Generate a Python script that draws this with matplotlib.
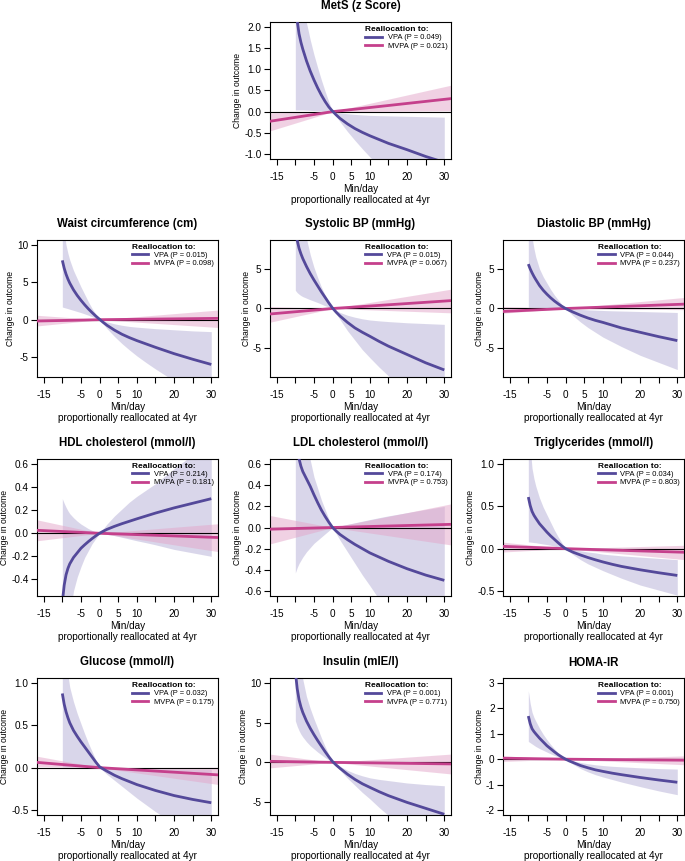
import matplotlib
matplotlib.use("Agg")
import matplotlib.pyplot as plt
from matplotlib.lines import Line2D
from matplotlib.ticker import FormatStrFormatter

plt.rcParams['font.family'] = ['Liberation Sans', 'DejaVu Sans']
plt.rcParams['axes.unicode_minus'] = False

# minutes/day reallocated (x values of the plotted curves)
X_VPA = [-10, -9.5, -9, -8.5, -8, -7, -6, -5, -4, -3, -2, -1, 0, 1, 2, 4, 6, 8, 10, 12.5, 15, 20, 25, 30]
X_MVPA = [-17, 0, 32]
X_TICKS = [-15, -10, -5, 0, 5, 10, 15, 20, 25, 30]
X_LABELED = [-15, -5, 0, 5, 10, 20, 30]

TITLES = ["MetS (z Score)", "Waist circumference (cm)", "Systolic BP (mmHg)",
          "Diastolic BP (mmHg)", "HDL cholesterol (mmol/l)", "LDL cholesterol (mmol/l)",
          "Triglycerides (mmol/l)", "Glucose (mmol/l)", "Insulin (mIE/l)", "HOMA-IR"]
P_VPA = ["0.049", "0.015", "0.015", "0.044", "0.214", "0.174", "0.034", "0.032", "0.001", "0.001"]
P_MVPA = ["0.021", "0.098", "0.067", "0.237", "0.181", "0.753", "0.803", "0.175", "0.771", "0.750"]

YRANGES = [(-1, 2), (-7, 10), (-8, 8), (-8, 8), (-0.5, 0.6), (-0.6, 0.6),
           (-0.5, 1.0), (-0.5, 1.0), (-6, 10), (-2, 3)]
YTICKS = [[-1.0, -0.5, 0.0, 0.5, 1.0, 1.5, 2.0], [-5, 0, 5, 10], [-5, 0, 5], [-5, 0, 5],
          [-0.4, -0.2, 0.0, 0.2, 0.4, 0.6], [-0.6, -0.4, -0.2, 0.0, 0.2, 0.4, 0.6],
          [-0.5, 0.0, 0.5, 1.0], [-0.5, 0.0, 0.5, 1.0], [-5, 0, 5, 10], [-2, -1, 0, 1, 2, 3]]

# MetS
mets_vpa = [2.8, 2.15, 1.84, 1.64, 1.48, 1.2, 0.96, 0.75, 0.56, 0.39, 0.24, 0.11, 0.01, -0.08, -0.16, -0.29, -0.4, -0.49, -0.57, -0.66, -0.75, -0.9, -1.06, -1.2]
mets_vpa_lo = [0.04, 0.04, 0.04, 0.04, 0.04, 0.035, 0.03, 0.025, 0.02, 0.015, 0.01, 0.01, 0.01, -0.12, -0.24, -0.47, -0.68, -0.88, -1.07, -1.28, -1.47, -1.82, -2.12, -2.4]
mets_vpa_hi = [4.5, 3.6, 3.1, 2.8, 2.55, 2.1, 1.7, 1.35, 1.04, 0.75, 0.48, 0.23, 0.01, -0.015, -0.03, -0.05, -0.065, -0.078, -0.088, -0.095, -0.1, -0.11, -0.12, -0.13]
mets_mvpa = [-0.23, 0.0, 0.31]
mets_mvpa_lo = [-0.46, 0.0, 0.02]
mets_mvpa_hi = [-0.03, 0.0, 0.63]

# Waist circumference
waist_vpa = [7.95, 6.9, 6.1, 5.45, 4.9, 4.0, 3.25, 2.6, 2.0, 1.45, 0.95, 0.48, 0.05, -0.37, -0.75, -1.4, -1.95, -2.4, -2.8, -3.25, -3.7, -4.55, -5.3, -6.0]
waist_vpa_lo = [1.7, 1.62, 1.55, 1.48, 1.4, 1.25, 1.1, 0.95, 0.78, 0.6, 0.4, 0.2, 0.05, -0.6, -1.2, -2.25, -3.2, -4.05, -4.85, -5.75, -6.6, -8.2, -9.6, -11.0]
waist_vpa_hi = [14, 11.7, 10, 8.9, 8.0, 6.6, 5.5, 4.4, 3.4, 2.4, 1.5, 0.75, 0.05, -0.15, -0.3, -0.55, -0.75, -0.9, -1.0, -1.1, -1.2, -1.35, -1.5, -1.6]
waist_mvpa = [-0.18, 0.0, 0.18]
waist_mvpa_lo = [-0.85, 0.0, -1.05]
waist_mvpa_hi = [0.6, 0.0, 1.3]

# Systolic BP
sys_vpa = [10, 8.6, 7.6, 6.9, 6.3, 5.3, 4.4, 3.6, 2.85, 2.1, 1.4, 0.7, 0.05, -0.48, -0.95, -1.75, -2.45, -3.0, -3.5, -4.15, -4.75, -5.8, -6.85, -7.75]
sys_vpa_lo = [2.3, 2.0, 1.8, 1.63, 1.5, 1.3, 1.1, 0.93, 0.75, 0.55, 0.35, 0.18, 0.05, -0.7, -1.4, -2.8, -4.0, -5.2, -6.2, -7.4, -8.5, -10.5, -12.3, -14.0]
sys_vpa_hi = [30, 22, 18, 14.5, 12, 8.8, 6.8, 5.2, 3.9, 2.7, 1.7, 0.8, 0.05, -0.25, -0.5, -0.85, -1.1, -1.3, -1.45, -1.56, -1.65, -1.8, -1.9, -2.0]
sys_mvpa = [-0.7, 0.0, 1.0]
sys_mvpa_lo = [-1.75, 0.0, -0.55]
sys_mvpa_hi = [0.25, 0.0, 2.45]

# Diastolic BP
dia_vpa = [5.6, 5.0, 4.5, 4.05, 3.65, 2.9, 2.3, 1.8, 1.35, 0.95, 0.6, 0.28, 0.0, -0.23, -0.45, -0.85, -1.2, -1.5, -1.75, -2.1, -2.45, -3.0, -3.55, -4.05]
dia_vpa_lo = [0.15, 0.145, 0.14, 0.135, 0.13, 0.12, 0.11, 0.1, 0.08, 0.06, 0.04, 0.02, 0.0, -0.45, -0.9, -1.7, -2.4, -3.0, -3.6, -4.2, -4.8, -5.9, -6.8, -7.7]
dia_vpa_hi = [15, 11, 9.0, 7.6, 6.5, 5.0, 4.0, 3.2, 2.4, 1.7, 1.1, 0.5, 0.0, -0.04, -0.07, -0.12, -0.17, -0.21, -0.25, -0.29, -0.32, -0.38, -0.44, -0.5]
dia_mvpa = [-0.38, 0.0, 0.55]
dia_mvpa_lo = [-0.6, 0.0, -0.15]
dia_mvpa_hi = [0.25, 0.0, 1.4]

# HDL cholesterol
hdl_vpa = [-0.6, -0.45, -0.36, -0.305, -0.265, -0.21, -0.17, -0.13, -0.1, -0.072, -0.046, -0.022, 0.0, 0.018, 0.034, 0.06, 0.083, 0.104, 0.125, 0.15, 0.175, 0.22, 0.26, 0.3]
hdl_vpa_lo = [-2.0, -1.5, -1.2, -0.92, -0.72, -0.5, -0.38, -0.29, -0.21, -0.15, -0.09, -0.045, 0.0, -0.005, -0.01, -0.02, -0.035, -0.05, -0.065, -0.082, -0.1, -0.14, -0.17, -0.2]
hdl_vpa_hi = [0.3, 0.26, 0.225, 0.195, 0.17, 0.135, 0.105, 0.08, 0.06, 0.04, 0.025, 0.012, 0.0, 0.04, 0.08, 0.15, 0.21, 0.27, 0.32, 0.375, 0.43, 0.56, 0.68, 0.8]
hdl_mvpa = [0.026, 0.0, -0.037]
hdl_mvpa_lo = [-0.066, 0.0, -0.16]
hdl_mvpa_hi = [0.118, 0.0, 0.083]

# LDL cholesterol
ldl_vpa = [1.1, 0.8, 0.65, 0.58, 0.53, 0.46, 0.39, 0.31, 0.235, 0.165, 0.105, 0.05, 0.0, -0.035, -0.066, -0.115, -0.16, -0.2, -0.24, -0.28, -0.32, -0.39, -0.45, -0.5]
ldl_vpa_lo = [-0.43, -0.38, -0.34, -0.31, -0.28, -0.23, -0.19, -0.15, -0.12, -0.09, -0.06, -0.03, 0.0, -0.06, -0.12, -0.23, -0.34, -0.45, -0.55, -0.68, -0.8, -1.05, -1.3, -1.5]
ldl_vpa_hi = [5.0, 3.0, 2.0, 1.5, 1.2, 0.85, 0.64, 0.48, 0.37, 0.26, 0.17, 0.08, 0.0, 0.008, 0.015, 0.03, 0.045, 0.06, 0.075, 0.093, 0.11, 0.14, 0.17, 0.2]
ldl_mvpa = [-0.016, 0.0, 0.03]
ldl_mvpa_lo = [-0.157, 0.0, -0.166]
ldl_mvpa_hi = [0.115, 0.0, 0.225]

# Triglycerides
tg_vpa = [0.61, 0.51, 0.44, 0.395, 0.36, 0.295, 0.245, 0.195, 0.15, 0.11, 0.07, 0.032, 0.0, -0.022, -0.042, -0.075, -0.105, -0.132, -0.157, -0.185, -0.21, -0.25, -0.285, -0.317]
tg_vpa_lo = [0.08, 0.078, 0.075, 0.072, 0.07, 0.062, 0.055, 0.048, 0.04, 0.03, 0.02, 0.01, 0.0, -0.035, -0.07, -0.13, -0.18, -0.22, -0.26, -0.305, -0.35, -0.43, -0.49, -0.55]
tg_vpa_hi = [2.0, 1.2, 0.95, 0.83, 0.74, 0.6, 0.49, 0.4, 0.31, 0.22, 0.14, 0.07, 0.0, -0.005, -0.01, -0.025, -0.04, -0.05, -0.065, -0.075, -0.085, -0.1, -0.115, -0.13]
tg_mvpa = [0.027, 0.0, -0.043]
tg_mvpa_lo = [-0.04, 0.0, -0.13]
tg_mvpa_hi = [0.078, 0.0, 0.04]

# Glucose
glu_vpa = [0.877, 0.75, 0.66, 0.59, 0.53, 0.44, 0.37, 0.305, 0.245, 0.185, 0.125, 0.065, 0.01, -0.017, -0.042, -0.09, -0.13, -0.165, -0.2, -0.235, -0.27, -0.33, -0.376, -0.415]
glu_vpa_lo = [0.01, 0.01, 0.01, 0.01, 0.01, 0.01, 0.01, 0.01, 0.01, 0.01, 0.01, 0.01, 0.01, -0.04, -0.08, -0.15, -0.22, -0.29, -0.36, -0.44, -0.52, -0.66, -0.8, -0.95]
glu_vpa_hi = [2.5, 1.7, 1.3, 1.1, 0.95, 0.78, 0.64, 0.52, 0.4, 0.29, 0.19, 0.09, 0.01, -0.003, -0.005, -0.008, -0.01, -0.012, -0.014, -0.015, -0.016, -0.018, -0.02, -0.02]
glu_mvpa = [0.063, 0.0, -0.086]
glu_mvpa_lo = [0.012, 0.0, -0.2]
glu_mvpa_hi = [0.137, 0.0, 0.004]

# Insulin
ins_vpa = [11.5, 9.3, 7.9, 7.0, 6.3, 5.2, 4.3, 3.5, 2.75, 2.05, 1.35, 0.7, 0.1, -0.35, -0.75, -1.5, -2.15, -2.7, -3.15, -3.7, -4.2, -5.05, -5.8, -6.55]
ins_vpa_lo = [5.25, 4.55, 4.0, 3.55, 3.2, 2.6, 2.1, 1.7, 1.3, 0.95, 0.6, 0.3, 0.1, -0.5, -1.0, -2.0, -2.9, -3.8, -4.6, -5.7, -6.7, -8.5, -10.0, -11.5]
ins_vpa_hi = [25, 18, 14, 12, 10.5, 8.3, 6.8, 5.5, 4.3, 3.1, 2.0, 1.0, 0.1, -0.2, -0.5, -1.0, -1.4, -1.7, -1.95, -2.15, -2.3, -2.6, -2.8, -2.95]
ins_mvpa = [0.13, 0.0, -0.2]
ins_mvpa_lo = [-0.7, 0.0, -1.47]
ins_mvpa_hi = [1.05, 0.0, 1.05]

# HOMA-IR
homa_vpa = [1.7, 1.4, 1.2, 1.09, 1.0, 0.83, 0.68, 0.53, 0.41, 0.29, 0.18, 0.085, 0.0, -0.07, -0.13, -0.25, -0.34, -0.42, -0.48, -0.55, -0.61, -0.72, -0.82, -0.91]
homa_vpa_lo = [0.7, 0.65, 0.6, 0.55, 0.5, 0.42, 0.35, 0.28, 0.21, 0.15, 0.09, 0.04, 0.0, -0.1, -0.2, -0.37, -0.5, -0.61, -0.7, -0.8, -0.9, -1.08, -1.25, -1.4]
homa_vpa_hi = [2.7, 2.2, 1.85, 1.65, 1.5, 1.22, 0.98, 0.77, 0.58, 0.41, 0.25, 0.12, 0.0, -0.035, -0.07, -0.13, -0.18, -0.22, -0.25, -0.28, -0.3, -0.34, -0.37, -0.39]
homa_mvpa = [0.04, 0.0, -0.04]
homa_mvpa_lo = [-0.09, 0.0, -0.22]
homa_mvpa_hi = [0.13, 0.0, 0.13]

VPA_SETS = [(mets_vpa, mets_vpa_lo, mets_vpa_hi), (waist_vpa, waist_vpa_lo, waist_vpa_hi),
            (sys_vpa, sys_vpa_lo, sys_vpa_hi), (dia_vpa, dia_vpa_lo, dia_vpa_hi),
            (hdl_vpa, hdl_vpa_lo, hdl_vpa_hi), (ldl_vpa, ldl_vpa_lo, ldl_vpa_hi),
            (tg_vpa, tg_vpa_lo, tg_vpa_hi), (glu_vpa, glu_vpa_lo, glu_vpa_hi),
            (ins_vpa, ins_vpa_lo, ins_vpa_hi), (homa_vpa, homa_vpa_lo, homa_vpa_hi)]
MVPA_SETS = [(mets_mvpa, mets_mvpa_lo, mets_mvpa_hi), (waist_mvpa, waist_mvpa_lo, waist_mvpa_hi),
             (sys_mvpa, sys_mvpa_lo, sys_mvpa_hi), (dia_mvpa, dia_mvpa_lo, dia_mvpa_hi),
             (hdl_mvpa, hdl_mvpa_lo, hdl_mvpa_hi), (ldl_mvpa, ldl_mvpa_lo, ldl_mvpa_hi),
             (tg_mvpa, tg_mvpa_lo, tg_mvpa_hi), (glu_mvpa, glu_mvpa_lo, glu_mvpa_hi),
             (ins_mvpa, ins_mvpa_lo, ins_mvpa_hi), (homa_mvpa, homa_mvpa_lo, homa_mvpa_hi)]

VPA_COL = '#54499a'
MVPA_COL = '#c5408c'
VPA_FILL = '#b5afd6'
MVPA_FILL = '#e3a5c9'

W, H = 685, 861
fig = plt.figure(figsize=(W / 100, H / 100), dpi=100)

# pixel layout (left, top) of each panel box
col_left = [37, 270, 503]
row_top = [22, 240, 459, 678]
aw, ah = 181, 137
slots = [(0, 1)] + [(r, c) for r in (1, 2, 3) for c in (0, 1, 2)]


def pad(lo, hi, f=0.04):
    d = (hi - lo) * f
    return lo - d, hi + d


for i, (r, c) in enumerate(slots):
    ax = fig.add_axes([col_left[c] / W, 1 - (row_top[r] + ah) / H, aw / W, ah / H])
    v, vlo, vhi = VPA_SETS[i]
    m, mlo, mhi = MVPA_SETS[i]

    ax.fill_between(X_VPA, vlo, vhi, color=VPA_FILL, alpha=0.5, lw=0)
    ax.fill_between(X_MVPA, mlo, mhi, color=MVPA_FILL, alpha=0.5, lw=0)
    ax.axhline(0, color='black', lw=0.8, zorder=3)
    ax.plot(X_MVPA, m, color=MVPA_COL, lw=2.0, zorder=4)
    ax.plot(X_VPA, v, color=VPA_COL, lw=2.0, zorder=5, solid_capstyle='butt',
            solid_joinstyle='round')

    ax.set_xlim(pad(-15, 30))
    ax.set_ylim(pad(*YRANGES[i]))
    ax.set_xticks(X_TICKS)
    ax.set_xticklabels([str(t) if t in X_LABELED else '' for t in X_TICKS])
    ax.set_yticks(YTICKS[i])
    if all(float(t).is_integer() for t in YTICKS[i]):
        ax.yaxis.set_major_formatter(FormatStrFormatter('%d'))
    else:
        ax.yaxis.set_major_formatter(FormatStrFormatter('%.1f'))
    ax.tick_params(direction='out', length=4, width=0.8, labelsize=7.2)
    ax.tick_params(axis='x', pad=5.5)
    ax.tick_params(axis='y', pad=2)
    for s in ax.spines.values():
        s.set_linewidth(0.8)

    ax.set_title(TITLES[i], fontsize=8.3, fontweight='bold', pad=9)
    ax.set_ylabel('Change in outcome', fontsize=6.2, labelpad=1.5)
    ax.set_xlabel('Min/day\nproportionally reallocated at 4yr', fontsize=7.2,
                  labelpad=1.5, linespacing=1.15)

    handles = [Line2D([], [], color=VPA_COL, lw=2.0), Line2D([], [], color=MVPA_COL, lw=2.0)]
    leg = ax.legend(handles, ['VPA (P = %s)' % P_VPA[i], 'MVPA (P = %s)' % P_MVPA[i]],
                    loc='upper right', frameon=False, fontsize=5.4,
                    title='Reallocation to:', alignment='left',
                    handlelength=2.2, handletextpad=0.8, labelspacing=0.15,
                    borderaxespad=0.3, borderpad=0.2)
    leg.get_title().set_fontsize(6.0)
    leg.get_title().set_fontweight('bold')

fig.savefig('out.png', dpi=100)
